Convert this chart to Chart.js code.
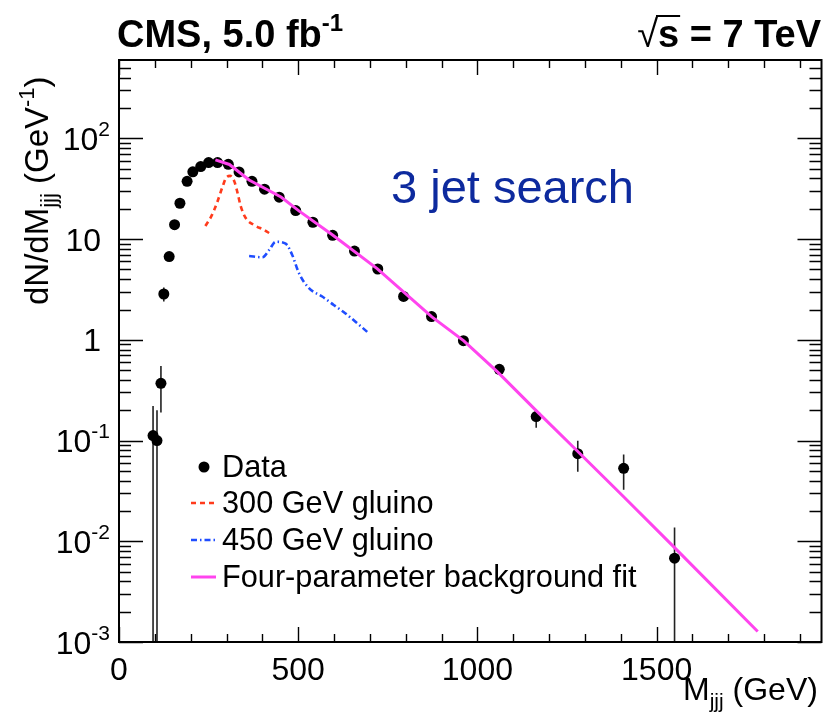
<!DOCTYPE html>
<html><head><meta charset="utf-8">
<script src="https://cdn.jsdelivr.net/npm/chart.js@4.4.1/dist/chart.umd.min.js"></script>
<style>html,body{margin:0;padding:0;background:#fff;}canvas{display:block;}</style>
</head><body>
<canvas id="c" width="827" height="712"></canvas>
<script>
// ---- data ----
const dataMass  = [95, 106, 117, 125, 140, 155, 170, 190, 206, 228, 250, 275, 305, 335, 371, 406, 447, 493, 541, 596, 657, 722, 794, 872, 961, 1061, 1164, 1280, 1408, 1550];
const dataValue = [0.112, 0.100, 0.37, 2.85, 6.7, 13.9, 22.7, 37.5, 46.5, 52.5, 57.5, 57.5, 55.3, 46.4, 37.5, 31.3, 26.1, 19.2, 14.7, 10.9, 7.6, 5.05, 2.7, 1.7, 0.98, 0.51, 0.173, 0.074, 0.053, 0.0068];
const dataErrLow  = [1e-6, 1e-6, 0.19, 2.4, null, null, null, null, null, null, null, null, null, null, null, null, null, null, null, null, null, null, null, null, null, null, 0.134, 0.049, 0.0325, 1e-6];
const dataErrHigh = [0.22, 0.20, 0.55, 3.3, null, null, null, null, null, null, null, null, null, null, null, null, null, null, null, null, null, null, null, null, null, null, 0.206, 0.0995, 0.0725, 0.0137];

const gluino300Mass  = [241, 257, 273, 289, 300, 310, 322, 331, 340, 354, 377, 405, 424];
const gluino300Value = [13.5, 16.7, 22.7, 33.2, 41.1, 42.4, 37.2, 28.5, 21.0, 16.1, 13.8, 12.3, 11.2];

const gluino450Mass  = [363, 400, 419, 437, 465, 483, 502, 530, 567, 599, 631, 664, 696];
const gluino450Value = [6.8, 6.6, 7.8, 9.4, 9.0, 7.0, 4.6, 3.26, 2.69, 2.22, 1.84, 1.47, 1.17];

const fitMass  = [269, 308, 363, 452, 502, 596, 721, 873, 962, 1056, 1164, 1278, 1408, 1550, 1782];
const fitValue = [61.1, 55.1, 38.6, 26.2, 19.05, 11.0, 5.06, 1.69, 0.978, 0.481, 0.198, 0.0792, 0.0277, 0.00864, 0.00127];

const xMajorTicks = [0, 500, 1000, 1500];
const xMinorStep = 100;
const yDecades = [-3, -2, -1, 0, 1, 2];

const seriesLabels = ['Data', '300 GeV gluino', '450 GeV gluino', 'Four-parameter background fit'];
const RED = '#ff3b1c', BLUE = '#1f4dff', MAGENTA = '#ff44ee', TEXTBLUE = '#0d2a9e';

const FONT = '"Liberation Sans", Arial, Helvetica, sans-serif';
function fnt(size, bold) { return (bold ? 'bold ' : '') + size + 'px ' + FONT; }
function drawParts(ctx, parts, x, y, align) {
  let w = 0;
  parts.forEach(p => { ctx.font = fnt(p.size, p.bold); p.w = ctx.measureText(p.t).width; w += p.w; });
  let cx = align === 'right' ? x - w : (align === 'center' ? x - w / 2 : x);
  ctx.textAlign = 'left'; ctx.textBaseline = 'alphabetic';
  const starts = [];
  parts.forEach(p => { ctx.font = fnt(p.size, p.bold); starts.push(cx); ctx.fillText(p.t, cx, y + (p.dy || 0)); cx += p.w; });
  return starts;
}
const pts = (xs, ys) => xs.map((x, i) => ({x: x, y: ys[i]}));

const errorBars = {
  id: 'errorBars',
  beforeDatasetsDraw(chart) {
    const {ctx, chartArea: a, scales: {x, y}} = chart;
    ctx.save();
    ctx.beginPath(); ctx.rect(a.left, a.top, a.right - a.left, a.bottom - a.top); ctx.clip();
    ctx.strokeStyle = '#222'; ctx.lineWidth = 1.6;
    dataMass.forEach((m, i) => {
      if (dataErrLow[i] == null) return;
      const px = x.getPixelForValue(m);
      const lo = Math.min(y.getPixelForValue(dataErrLow[i]), a.bottom + 5);
      ctx.beginPath(); ctx.moveTo(px, lo); ctx.lineTo(px, y.getPixelForValue(dataErrHigh[i])); ctx.stroke();
    });
    ctx.restore();
  }
};

const rootFrame = {
  id: 'rootFrame',
  afterDraw(chart) {
    const {ctx, chartArea: a, scales: {x, y}} = chart;
    ctx.save();
    ctx.fillStyle = '#000'; ctx.strokeStyle = '#000';
    // ticks
    ctx.lineWidth = 1.4;
    for (let v = 0; v <= x.max; v += xMinorStep) {
      const px = Math.round(x.getPixelForValue(v)) + 0.5;
      const len = xMajorTicks.includes(v) ? 15 : 8;
      ctx.beginPath();
      ctx.moveTo(px, a.bottom); ctx.lineTo(px, a.bottom - len);
      ctx.moveTo(px, a.top); ctx.lineTo(px, a.top + len);
      ctx.stroke();
    }
    yDecades.forEach(e => {
      for (let k = 1; k <= 9; k++) {
        const v = k * Math.pow(10, e);
        if (v < y.min || v >= y.max) continue;
        const py = Math.round(y.getPixelForValue(v)) + 0.5;
        const len = k === 1 ? 24 : 12;
        ctx.beginPath();
        ctx.moveTo(a.left, py); ctx.lineTo(a.left + len, py);
        ctx.moveTo(a.right, py); ctx.lineTo(a.right - len, py);
        ctx.stroke();
      }
    });
    // frame
    ctx.lineWidth = 2;
    ctx.strokeRect(a.left, a.top, a.right - a.left, a.bottom - a.top);

    // x tick labels
    xMajorTicks.forEach(v => {
      drawParts(ctx, [{t: String(v), size: 32}], x.getPixelForValue(v), a.bottom + 38, 'center');
    });
    // y tick labels
    yDecades.forEach(e => {
      const py = y.getPixelForValue(Math.pow(10, e)) + 11.5;
      if (e === 0) drawParts(ctx, [{t: '1', size: 32}], 101, py, 'right');
      else if (e === 1) drawParts(ctx, [{t: '10', size: 32}], 101, py, 'right');
      else drawParts(ctx, [{t: '10', size: 32}, {t: String(e).replace('-', '-'), size: 21, dy: -14}], 110, py, 'right');
    });
    // x title
    drawParts(ctx, [{t: 'M', size: 32}, {t: 'jjj', size: 21, dy: 8}, {t: ' (GeV)', size: 32}], 683, 700, 'left');
    // y title (rotated)
    ctx.save();
    ctx.translate(48, 305); ctx.rotate(-Math.PI / 2);
    drawParts(ctx, [{t: 'dN/dM', size: 33}, {t: 'jjj', size: 22, dy: 8}, {t: ' (GeV', size: 33}, {t: '-1', size: 22, dy: -14}, {t: ')', size: 33}], 0, 0, 'left');
    ctx.restore();
    // header texts
    drawParts(ctx, [{t: 'CMS, 5.0 fb', size: 38, bold: true}, {t: '-1', size: 24, bold: true, dy: -16}], 117, 47, 'left');
    const st = drawParts(ctx, [{t: '\u221A', size: 38}, {t: 's = 7 TeV', size: 38, bold: true}], 821, 47, 'right');
    ctx.font = fnt(38, true);
    const sw = ctx.measureText('s').width;
    ctx.lineWidth = 2; ctx.beginPath(); ctx.moveTo(st[1] - 2, 16); ctx.lineTo(st[1] + sw + 1, 16); ctx.stroke();
    // 3 jet search
    ctx.fillStyle = TEXTBLUE;
    drawParts(ctx, [{t: '3 jet search', size: 47}], 391, 203, 'left');
    ctx.fillStyle = '#000';
    // legend
    const lx0 = 191, lx1 = 216, tx = 222, ls = 30.7;
    ctx.beginPath(); ctx.arc(204, 467, 5.5, 0, Math.PI * 2); ctx.fill();
    drawParts(ctx, [{t: seriesLabels[0], size: ls}], tx, 477, 'left');
    ctx.lineWidth = 2.6;
    ctx.strokeStyle = RED; ctx.setLineDash([5, 4]);
    ctx.beginPath(); ctx.moveTo(lx0, 503); ctx.lineTo(lx1, 503); ctx.stroke();
    drawParts(ctx, [{t: seriesLabels[1], size: ls}], tx, 513, 'left');
    ctx.strokeStyle = BLUE; ctx.setLineDash([6, 3, 1.5, 3]);
    ctx.beginPath(); ctx.moveTo(lx0, 540); ctx.lineTo(lx1, 540); ctx.stroke();
    drawParts(ctx, [{t: seriesLabels[2], size: ls}], tx, 550, 'left');
    ctx.strokeStyle = MAGENTA; ctx.setLineDash([]); ctx.lineWidth = 3;
    ctx.beginPath(); ctx.moveTo(lx0, 577); ctx.lineTo(lx1, 577); ctx.stroke();
    drawParts(ctx, [{t: seriesLabels[3], size: ls}], tx, 587, 'left');
    ctx.restore();
  }
};

new Chart(document.getElementById('c').getContext('2d'), {
  type: 'scatter',
  data: {
    datasets: [
      {label: seriesLabels[3], type: 'line', data: pts(fitMass, fitValue), borderColor: MAGENTA, borderWidth: 3, pointRadius: 0, fill: false, tension: 0, order: 0},
      {label: seriesLabels[0], data: pts(dataMass, dataValue), backgroundColor: '#000', borderColor: '#000', pointRadius: 5.5, pointHoverRadius: 5.5, borderWidth: 0, order: 1},
      {label: seriesLabels[1], type: 'line', data: pts(gluino300Mass, gluino300Value), borderColor: RED, borderWidth: 2.6, borderDash: [5, 4], pointRadius: 0, fill: false, cubicInterpolationMode: 'monotone', order: 2},
      {label: seriesLabels[2], type: 'line', data: pts(gluino450Mass, gluino450Value), borderColor: BLUE, borderWidth: 2.6, borderDash: [6, 3, 1.5, 3], pointRadius: 0, fill: false, cubicInterpolationMode: 'monotone', order: 3}
    ]
  },
  options: {
    responsive: false, animation: false, devicePixelRatio: 1,
    layout: {padding: {left: 119, right: 1, top: 60, bottom: 70}},
    plugins: {legend: {display: false}, tooltip: {enabled: false}},
    scales: {
      x: {type: 'linear', min: 0, max: 1960, display: false},
      y: {type: 'logarithmic', min: 1e-3, max: 600, display: false}
    }
  },
  plugins: [errorBars, rootFrame]
});
</script>
</body></html>
